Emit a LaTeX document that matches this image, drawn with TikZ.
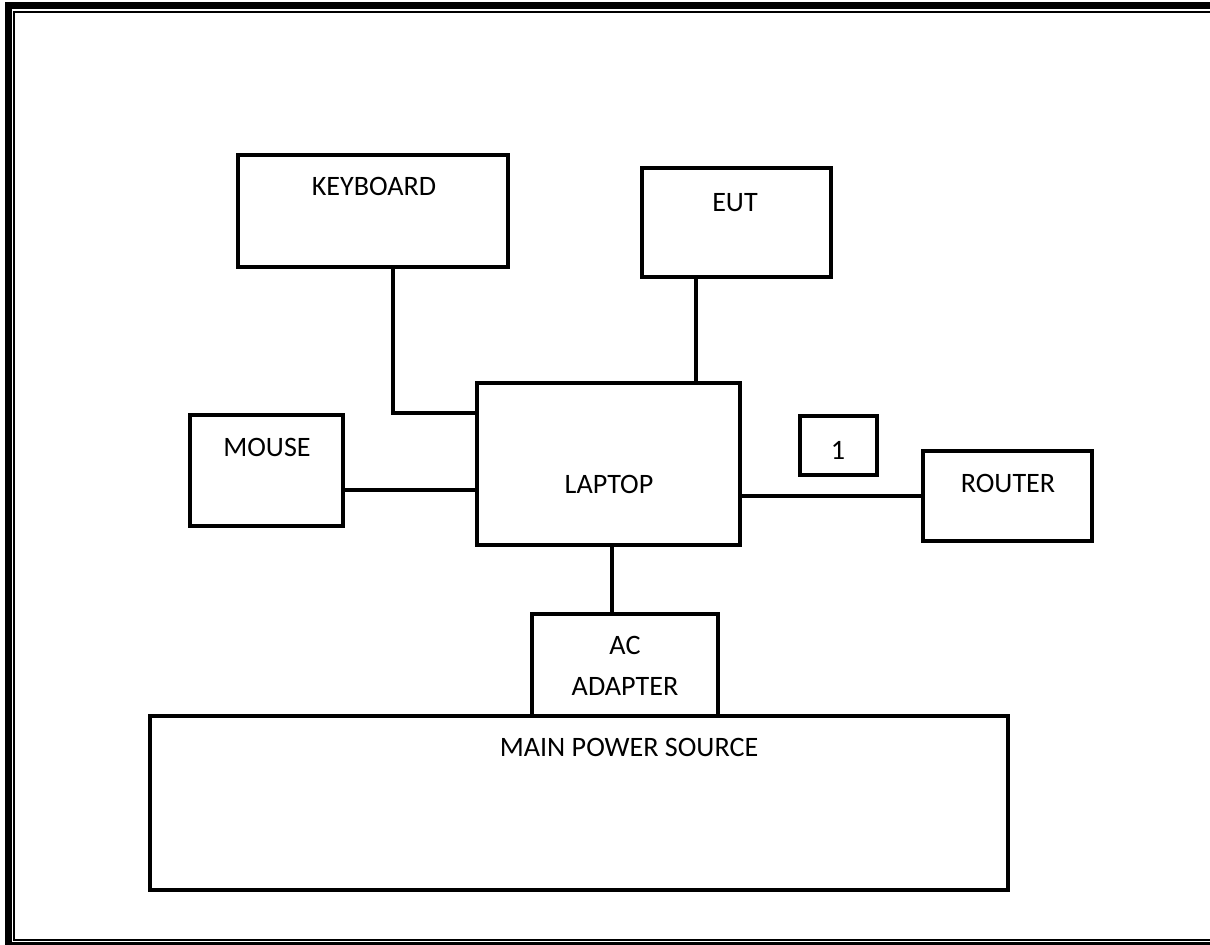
\documentclass[tikz,border=0pt]{standalone}
\usepackage{fontspec}
\setmainfont{Carlito}
\usetikzlibrary{positioning, calc}

\begin{document}
\begin{tikzpicture}[
    every node/.style={font=\fontsize{16}{23}\selectfont},
    unit/.style={
        rectangle,
        draw=black,
        line width=2.6pt,
        inner sep=0pt
    },
    tag/.style={
        align=center,
        inner sep=0pt,
        text depth=0pt
    },
    wire/.style={
        line width=2.7pt,
        black
    }
]
\useasboundingbox (0,0) rectangle (24.2,18.88);

% ============================================
% Page frame (thick outside, thin inside), runs off to the right
% ============================================
\draw[line width=0.14cm] (24.6,18.76) -| (0.17,-0.03) -- (24.6,-0.03);
\draw[line width=0.04cm] (24.6,18.64) -| (0.28,0.08) -- (24.6,0.08);

% ============================================
% Boxes
% ============================================
\node[unit, minimum width=5.4cm, minimum height=2.24cm] (kbd) at (7.46,14.66) {};
\node[unit, minimum width=3.78cm, minimum height=2.18cm] (eut) at (14.73,14.43) {};
\node[unit, minimum width=3.06cm, minimum height=2.22cm] (mouse) at (5.33,9.47) {};
\node[unit, minimum width=5.26cm, minimum height=3.24cm] (laptop) at (12.17,9.6) {};
\node[unit, minimum width=1.54cm, minimum height=1.18cm] (one) at (16.77,9.97) {};
\node[unit, minimum width=3.38cm, minimum height=1.8cm] (router) at (20.15,8.96) {};
\node[unit, minimum width=3.72cm, minimum height=2.04cm] (adapter) at (12.5,5.58) {};
\node[unit, minimum width=17.16cm, minimum height=3.48cm] (mains) at (11.58,2.82) {};

% Labels
\node[tag] (kbd-txt) at (7.48,15.16) {KEYBOARD};
\node[tag] (eut-txt) at (14.7,14.84) {EUT};
\node[tag] (mouse-txt) at (5.34,9.94) {MOUSE};
\node[tag] (laptop-txt) at (12.18,9.2) {LAPTOP};
\node[tag] (one-txt) at (16.76,9.88) {1};
\node[tag] (router-txt) at (20.16,9.22) {ROUTER};
\node[tag] (adapter-txt) at (12.5,5.56) {AC\\ADAPTER};
\node[tag] (mains-txt) at (12.58,3.94) {MAIN POWER SOURCE};

% ============================================
% Cables
% ============================================
\coordinate (kbdbend) at (7.86,10.62);
\coordinate (eutdrop) at (13.92,0);
\coordinate (mouseline) at (0,9.08);
\coordinate (acdrop) at (12.24,0);

\draw[wire] (kbd.south -| kbdbend) |- (laptop.west |- kbdbend);
\draw[wire] (eut.south -| eutdrop) -- (laptop.north -| eutdrop);
\draw[wire] (mouse.east |- mouseline) -- (laptop.west |- mouseline);
\draw[wire] (laptop.east |- router.west) -- (router.west);
\draw[wire] (laptop.south -| acdrop) -- (adapter.north -| acdrop);

\end{tikzpicture}
\end{document}
